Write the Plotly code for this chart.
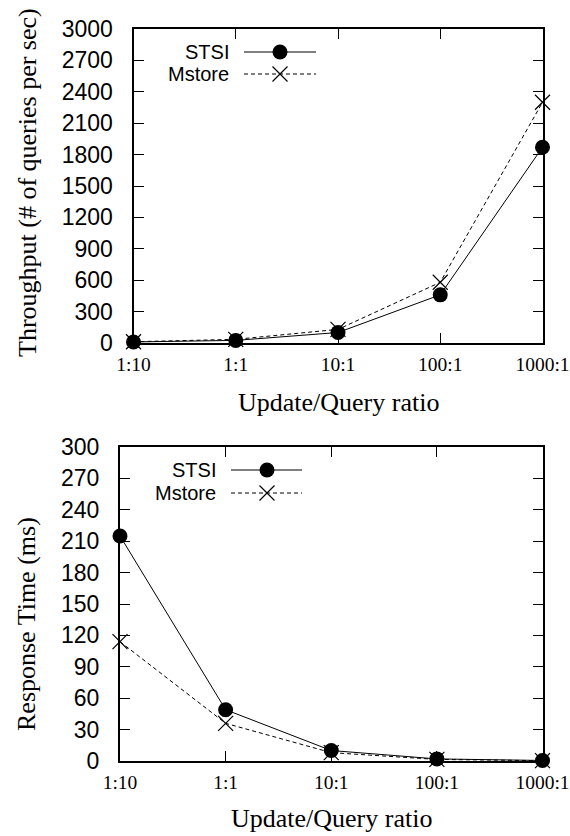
import plotly.graph_objects as go

# Update/Query ratio categories
ratios = ["1:10", "1:1", "10:1", "100:1", "1000:1"]

# Throughput (# of queries per sec)
thr_stsi = [10, 25, 100, 460, 1870]
thr_mstore = [12, 35, 130, 580, 2300]

# Response time (ms)
rt_stsi = [215, 49, 10, 2, 0.5]
rt_mstore = [114, 36, 8, 1.5, 0.3]

thr_ticks = list(range(0, 3001, 300))
rt_ticks = list(range(0, 301, 30))

W, H = 570, 836
SANS = "Liberation Sans, Arial, sans-serif"
SERIF = "Liberation Serif, Times New Roman, serif"

xpos = list(range(len(ratios)))

fig = go.Figure()

circle = dict(symbol="circle", size=15, color="black")
cross = dict(symbol="x-thin-open", size=15, color="black", line=dict(width=1.2, color="black"))


def add_series(xa, ya, ys, name, marker, dash):
    fig.add_trace(go.Scatter(
        x=xpos, y=ys, xaxis=xa, yaxis=ya, name=name, mode="lines+markers",
        line=dict(color="black", width=1, dash=dash), marker=marker,
        cliponaxis=False, showlegend=False))


add_series("x", "y", thr_mstore, "Mstore", cross, "4px,3px")
add_series("x", "y", thr_stsi, "STSI", circle, "solid")
add_series("x2", "y2", rt_mstore, "Mstore", cross, "4px,3px")
add_series("x2", "y2", rt_stsi, "STSI", circle, "solid")


# key samples, drawn on a pixel-space overlay axis
def key(px_text, px_l, px_m, px_r, py, label, marker, dash):
    fig.add_trace(go.Scatter(
        x=[px_l, px_m, px_r], y=[py, py, py], xaxis="x3", yaxis="y3",
        mode="lines", line=dict(color="black", width=1, dash=dash),
        showlegend=False, hoverinfo="skip"))
    fig.add_trace(go.Scatter(
        x=[px_m], y=[py], xaxis="x3", yaxis="y3", mode="markers",
        marker=marker, showlegend=False, hoverinfo="skip"))
    fig.add_annotation(x=px_text, y=py, xref="x3", yref="y3", text=label,
                       showarrow=False, xanchor="right", yanchor="middle",
                       xshift=2, borderpad=0,
                       font=dict(family=SANS, size=20, color="black"))


key(228, 244, 280, 316, 52, "STSI", circle, "solid")
key(228, 244, 280, 316, 74, "Mstore", cross, "4px,3px")
key(215, 231, 267, 302, 470, "STSI", circle, "solid")
key(215, 231, 267, 302, 493, "Mstore", cross, "4px,3px")

xaxis_common = dict(
    range=[0, 4], tickvals=xpos, ticktext=ratios, ticks="inside", ticklen=10,
    tickcolor="black", showline=True, linecolor="black", linewidth=2, mirror="ticks",
    showgrid=False, zeroline=False, tickfont=dict(family=SERIF, size=19.5, color="black"),
    ticklabelstandoff=3, ticklabeloverflow="allow", automargin=False,
)
yaxis_common = dict(
    ticks="inside", ticklen=10, tickcolor="black", showline=True, linecolor="black",
    linewidth=2, mirror="ticks", showgrid=False, zeroline=False,
    tickfont=dict(family=SANS, size=23, color="black"), ticklabelstandoff=14,
    automargin=False,
)

fig.update_layout(
    width=W, height=H, margin=dict(l=0, r=0, t=0, b=0, pad=0, autoexpand=False),
    plot_bgcolor="rgba(0,0,0,0)", paper_bgcolor="white",
    xaxis=dict(domain=[133.5 / W, 542.5 / W], anchor="y", **xaxis_common),
    yaxis=dict(domain=[1 - 343 / H, 1 - 29 / H], anchor="x", range=[0, 3000],
               tickvals=thr_ticks, **yaxis_common),
    xaxis2=dict(domain=[120 / W, 542.5 / W], anchor="y2", **xaxis_common),
    yaxis2=dict(domain=[1 - 761 / H, 1 - 447 / H], anchor="x2", range=[0, 300],
                tickvals=rt_ticks, **yaxis_common),
    xaxis3=dict(domain=[0, 1], range=[0, W], visible=False, anchor="y3", automargin=False),
    yaxis3=dict(domain=[0, 1], range=[H, 0], visible=False, anchor="x3", automargin=False),
    showlegend=False,
)

# axis titles
titles = [
    (338 / W, 1 - 402 / H, "Update/Query ratio", 0),
    (331 / W, 1 - 818 / H, "Update/Query ratio", 0),
    (27 / W, 1 - 183 / H, "Throughput (# of queries per sec)", -90),
    (26 / W, 1 - 624 / H, "Response Time (ms)", -90),
]
for x, y, t, ang in titles:
    fig.add_annotation(x=x, y=y, xref="paper", yref="paper", text=t, showarrow=False,
                       textangle=ang, xanchor="center", yanchor="middle",
                       font=dict(family=SERIF, size=26, color="black"))

fig.write_html("out.html")
